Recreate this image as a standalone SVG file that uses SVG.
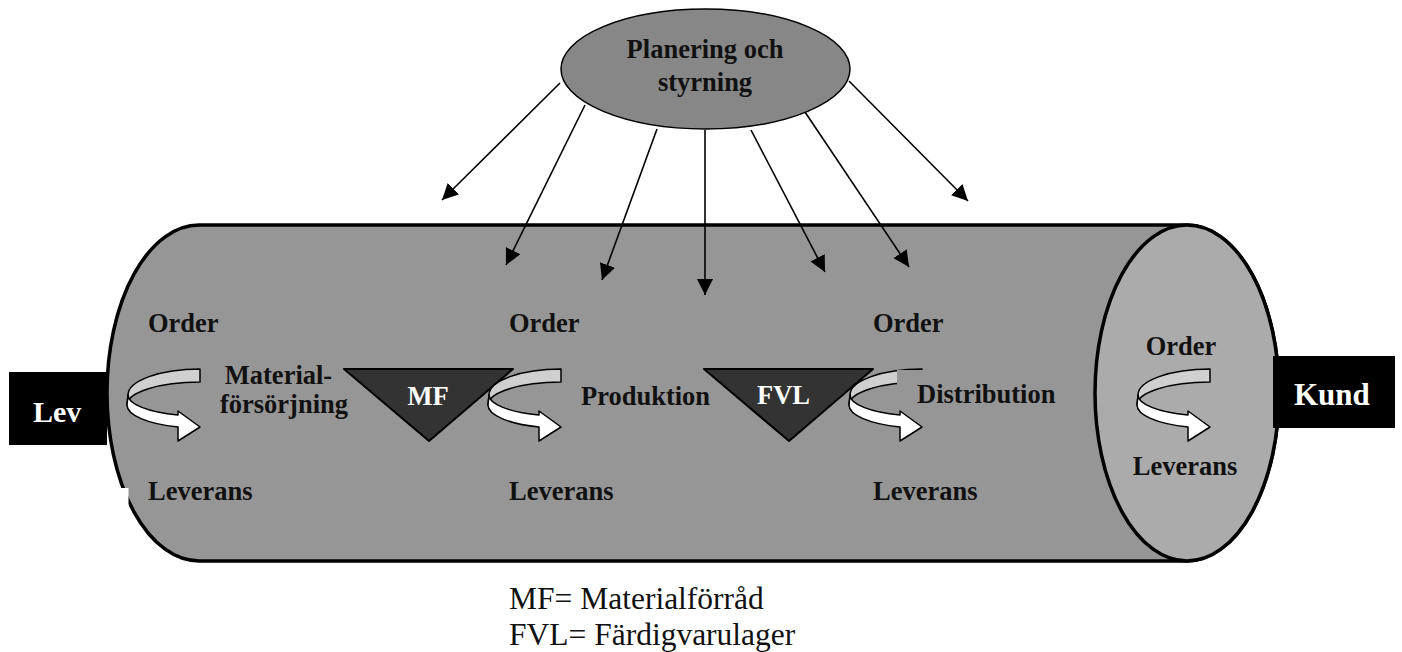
<svg xmlns="http://www.w3.org/2000/svg" xmlns:xlink="http://www.w3.org/1999/xlink" width="1402" height="652" viewBox="0 0 1402 652">
  <style>
    .lbl { font-family: "Liberation Serif", "Times New Roman", serif; font-weight: bold; font-size: 26.5px; fill: #111; }
    .inv { font-family: "Liberation Serif", "Times New Roman", serif; font-weight: bold; fill: #fff; }
    .legend { font-family: "Liberation Serif", "Times New Roman", serif; font-size: 31.5px; fill: #111; }
    .conn { stroke: #000; stroke-width: 1.6; fill: none; marker-end: url(#head); }
    .stock { fill: #333; stroke: #000; stroke-width: 2; stroke-linejoin: round; }
    .band-back { fill: #d0d0d0; stroke: #000; stroke-width: 1.5; stroke-linejoin: round; }
    .band-front { fill: #fff; stroke: #000; stroke-width: 1.5; stroke-linejoin: round; }
  </style>
  <defs>
    <marker id="head" viewBox="0 0 16 16" refX="16" refY="8" markerWidth="16" markerHeight="16" markerUnits="userSpaceOnUse" orient="auto">
      <path d="M0,0 L16,8 L0,16 Z" fill="#000"/>
    </marker>
    <!-- U-turn ribbon arrow: origin at the top-right corner of the back band -->
    <g id="turn">
      <path class="band-back" d="M0,0 A72,26 0 0 0 -72,26 L-73,36 A73,23 0 0 1 0,13 Z"/>
      <path class="band-front" d="M-72,26 A72,21 0 0 0 -22,46 L-22,42 L0,58 L-22,72 L-22,58 A73,23 0 0 1 -73,36 Z"/>
    </g>
  </defs>

  <!-- pipeline body -->
  <g id="pipeline">
    <path d="M199,225 L1187,225 A92,168 0 0 1 1187,561 L199,561 A92,168 0 0 1 199,225 Z" fill="#969696" stroke="#000" stroke-width="3.5"/>
    <ellipse cx="1187" cy="393" rx="92" ry="168" fill="#ababab" stroke="#000" stroke-width="3.5"/>
    <rect x="110" y="488" width="18.5" height="25" fill="#fff"/>
  </g>

  <!-- planning node -->
  <g id="planering">
    <ellipse cx="705.5" cy="69" rx="144.5" ry="60" fill="#878787" stroke="#000" stroke-width="1.5"/>
    <text class="lbl" x="705" y="58" text-anchor="middle">Planering och</text>
    <text class="lbl" x="705" y="91" text-anchor="middle">styrning</text>
  </g>

  <!-- control connectors -->
  <g id="connectors">
    <line class="conn" x1="560" y1="83" x2="442" y2="200"/>
    <line class="conn" x1="585" y1="105" x2="506" y2="265"/>
    <line class="conn" x1="657" y1="129" x2="602" y2="280"/>
    <line class="conn" x1="705" y1="130" x2="705" y2="295"/>
    <line class="conn" x1="751" y1="130" x2="825" y2="272"/>
    <line class="conn" x1="805" y1="112" x2="909" y2="267"/>
    <line class="conn" x1="849" y1="81" x2="968" y2="201"/>
  </g>

  <!-- supplier -->
  <g id="lev">
    <rect x="9" y="372" width="98" height="73" fill="#000"/>
    <text class="inv" x="33" y="422" font-size="30">Lev</text>
  </g>

  <!-- customer -->
  <g id="kund">
    <rect x="1273" y="356" width="122" height="72" fill="#000"/>
    <text class="inv" x="1294" y="405" font-size="31">Kund</text>
  </g>

  <!-- material supply stage -->
  <g id="materialforsorjning">
    <text class="lbl" x="148" y="332">Order</text>
    <use xlink:href="#turn" href="#turn" transform="translate(200,369)"/>
    <text class="lbl" x="278.5" y="384" text-anchor="middle" font-size="26">Material-</text>
    <text class="lbl" x="284" y="413" text-anchor="middle" font-size="26">försörjning</text>
    <text class="lbl" x="148" y="500">Leverans</text>
  </g>

  <!-- material store -->
  <g id="mf">
    <path class="stock" d="M344,369 L513,369 L429,441 Z"/>
    <text class="inv" x="428" y="405" font-size="26.5" text-anchor="middle">MF</text>
  </g>

  <!-- production stage -->
  <g id="produktion">
    <text class="lbl" x="509" y="332">Order</text>
    <use xlink:href="#turn" href="#turn" transform="translate(561,369)"/>
    <text class="lbl" x="581" y="405">Produktion</text>
    <text class="lbl" x="509" y="500">Leverans</text>
  </g>

  <!-- finished goods store -->
  <g id="fvl">
    <path class="stock" d="M704,369 L873,369 L789,441 Z"/>
    <text class="inv" x="783.5" y="404" font-size="26.5" text-anchor="middle">FVL</text>
  </g>

  <!-- distribution stage -->
  <g id="distribution">
    <text class="lbl" x="873" y="332">Order</text>
    <use xlink:href="#turn" href="#turn" transform="translate(922,369)"/>
    <rect x="897" y="370" width="165" height="40" fill="#969696"/>
    <text class="lbl" x="917" y="403">Distribution</text>
    <text class="lbl" x="873" y="500">Leverans</text>
  </g>

  <!-- customer end -->
  <g id="kundled">
    <text class="lbl" x="1181" y="355" text-anchor="middle">Order</text>
    <use xlink:href="#turn" href="#turn" transform="translate(1210,369)"/>
    <text class="lbl" x="1185" y="475" text-anchor="middle">Leverans</text>
  </g>

  <!-- legend -->
  <g id="legend">
    <text class="legend" x="509" y="609">MF= Materialförråd</text>
    <text class="legend" x="509" y="645">FVL= Färdigvarulager</text>
  </g>
</svg>
